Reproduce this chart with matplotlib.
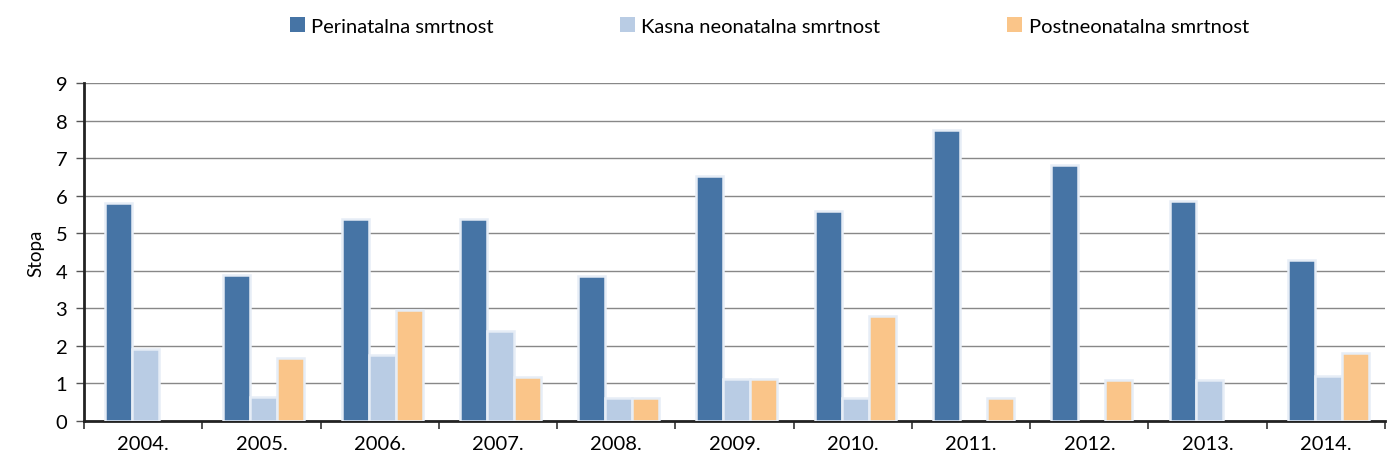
import numpy as np
import matplotlib.pyplot as plt
from matplotlib.patches import Patch

plt.rcParams['font.family'] = ['Lato', 'DejaVu Sans']

godine = ["2004.", "2005.", "2006.", "2007.", "2008.", "2009.", "2010.",
          "2011.", "2012.", "2013.", "2014."]
perinatalna = [5.8, 3.89, 5.38, 5.38, 3.87, 6.52, 5.59, 7.75, 6.82, 5.87, 4.29]
kasna_neonatalna = [1.92, 0.64, 1.76, 2.4, 0.61, 1.12, 0.61, 0, 0, 1.1, 1.19]
postneonatalna = [0, 1.68, 2.96, 1.17, 0.61, 1.12, 2.8, 0.61, 1.09, 0, 1.81]

nazivi = ["Perinatalna smrtnost", "Kasna neonatalna smrtnost", "Postneonatalna smrtnost"]
boje = ["#4674a5", "#b9cce4", "#fac589"]

fig = plt.figure(figsize=(13.91, 4.64), dpi=100)
ax = fig.add_axes([0.0604, 0.0905, 0.9353, 0.7285])

x = np.arange(len(godine))
w = 0.228
for i, (vals, c) in enumerate(zip([perinatalna, kasna_neonatalna, postneonatalna], boje)):
    v = np.array(vals)
    mask = v > 0
    ax.bar(x[mask] + (i - 1) * w + 0.02, v[mask], width=w, color=c,
           edgecolor="#e6edf6", linewidth=1.8, zorder=3)

ax.set_xlim(-0.5, len(godine) - 0.5)
ax.set_ylim(0, 9)
ax.set_yticks(range(10))
ax.set_xticks(x)
ax.set_xticklabels(godine)
ax.set_xticks(np.arange(-0.5, len(godine)), minor=True)
ax.tick_params(axis="x", which="major", length=0, pad=10, labelsize=14.5)
ax.tick_params(axis="x", which="minor", length=6, width=1.2, color="#333333")
ax.tick_params(axis="y", length=6, width=1, color="#555555", labelsize=14.5, pad=6)
ax.grid(axis="y", color="#888888", linewidth=1, zorder=0)
ax.set_ylabel("Stopa", fontsize=13.5, labelpad=8)

for s in ["top", "right"]:
    ax.spines[s].set_visible(False)
ax.spines["left"].set_linewidth(2)
ax.spines["bottom"].set_linewidth(2)
ax.spines["left"].set_color("#222222")
ax.spines["bottom"].set_color("#222222")

handles = [Patch(facecolor=c, edgecolor="none") for c in boje]
fig.legend(handles, nazivi, loc="upper center", bbox_to_anchor=(0.553, 1.0),
           ncol=3, frameon=False, fontsize=14.5, handlelength=0.75, handleheight=0.75,
           handletextpad=0.3, columnspacing=6.3)

fig.savefig("out.png", dpi=100)
